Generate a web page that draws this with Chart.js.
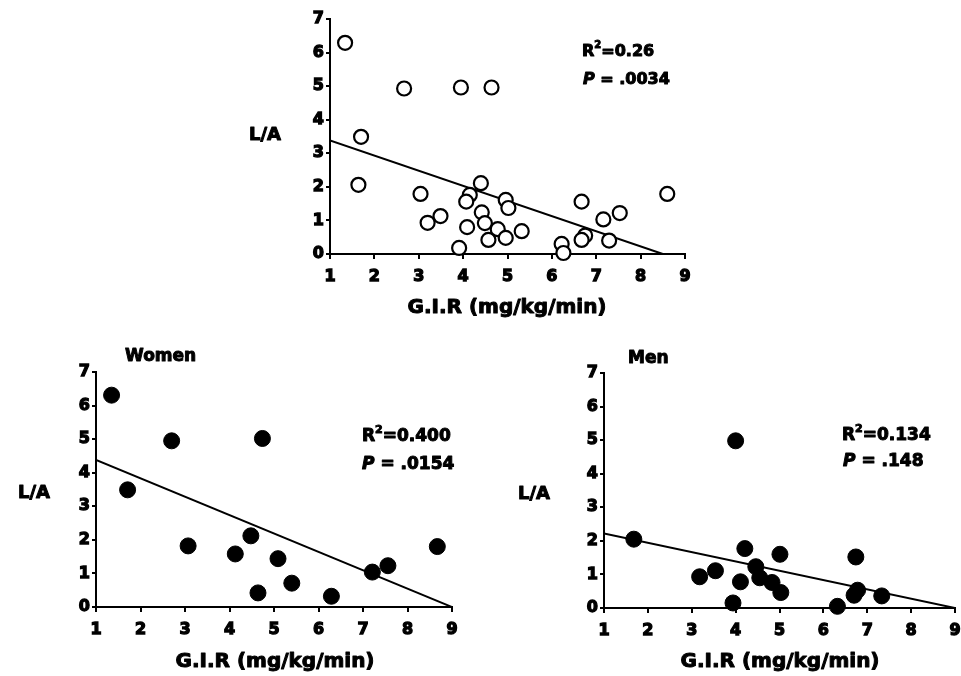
<!DOCTYPE html>
<html><head><meta charset="utf-8">
<script src="https://cdn.jsdelivr.net/npm/chart.js@4.4.1/dist/chart.umd.min.js"></script>
<style>
html,body{margin:0;padding:0;background:#fff;width:961px;height:676px;overflow:hidden;position:relative}
canvas{position:absolute}
</style></head><body>
<canvas id="cAll" width="520" height="330" style="left:200px;top:0px"></canvas>
<canvas id="cWomen" width="480" height="336" style="left:0px;top:340px"></canvas>
<canvas id="cMen" width="500" height="336" style="left:480px;top:340px"></canvas>
<script>
// ---------- data ----------
const xTicks = [1, 2, 3, 4, 5, 6, 7, 8, 9];
const yTicks = [0, 1, 2, 3, 4, 5, 6, 7];

const allGIR = [1.34, 2.67, 3.95, 4.64, 1.70, 1.64, 3.04, 3.20, 3.49, 3.91, 4.09, 4.15, 4.07, 4.40, 4.42, 4.49, 4.57, 4.78, 4.96, 5.02, 4.96, 5.32, 6.22, 6.26, 6.67, 6.75, 6.67, 7.16, 7.29, 7.53, 8.60];
const allLA  = [6.29, 4.93, 4.96, 4.96, 3.49, 2.06, 1.79, 0.93, 1.13, 0.18, 0.80, 1.76, 1.56, 2.11, 1.24, 0.92, 0.42, 0.74, 1.61, 1.37, 0.48, 0.68, 0.30, 0.03, 1.56, 0.55, 0.42, 1.03, 0.40, 1.22, 1.79];
const allFitX = [1, 8.5];
const allFitY = [3.38, 0];

const womenGIR = [1.35, 2.70, 4.74, 1.71, 3.07, 4.13, 4.48, 5.09, 4.64, 5.40, 6.29, 7.21, 7.56, 8.67];
const womenLA  = [6.31, 4.95, 5.02, 3.49, 1.82, 1.58, 2.12, 1.44, 0.42, 0.71, 0.32, 1.04, 1.23, 1.80];
const womenFitX = [1, 9];
const womenFitY = [4.38, 0];

const menGIR = [1.68, 4.00, 3.18, 3.54, 3.94, 4.11, 4.21, 4.46, 4.55, 4.83, 5.03, 5.01, 6.32, 6.74, 6.78, 6.70, 7.33];
const menLA  = [2.05, 4.98, 0.93, 1.11, 0.15, 0.78, 1.77, 1.23, 0.90, 0.76, 0.46, 1.60, 0.05, 1.52, 0.53, 0.38, 0.36];
const menFitX = [1, 9];
const menFitY = [2.22, 0];

const xTitle = 'G.I.R (mg/kg/min)';
const yTitle = 'L/A';
const panelNames = ['', 'Women', 'Men'];
const statR2 = ['0.26', '0.400', '0.134'];
const statP = ['.0034', '.0154', '.148'];

// ---------- helpers ----------
const pts = (xs, ys) => xs.map((x, i) => ({x: x, y: ys[i]}));

const textPlugin = {
  id: 'panelText',
  afterDraw(chart, args, opts) {
    const ctx = chart.ctx;
    ctx.save();
    ctx.fillStyle = '#000';
    ctx.strokeStyle = '#000';
    ctx.lineWidth = 1;
    ctx.lineJoin = 'round';
    ctx.textBaseline = 'middle';
    for (const it of opts.items || []) {
      let total = 0;
      for (const p of it.parts) { ctx.font = p.font; total += ctx.measureText(p.text).width; }
      let x = it.align === 'center' ? it.x - total / 2 : (it.align === 'right' ? it.x - total : it.x);
      for (const p of it.parts) {
        ctx.font = p.font;
        ctx.textAlign = 'left';
        ctx.strokeText(p.text, x, it.y + (p.dy || 0));
        ctx.fillText(p.text, x, it.y + (p.dy || 0));
        x += ctx.measureText(p.text).width;
      }
    }
    ctx.restore();
  }
};

const F_TITLE = 'bold 20px "DejaVu Sans"';
const F_LA = 'bold 18px "DejaVu Sans"';
const F_NAME = 'bold 17px "DejaVu Sans"';

function statItems(g, idx, size, rx, ry, px, py) {
  const f = 'bold ' + size + 'px "DejaVu Sans"';
  const fi = 'italic bold ' + size + 'px "DejaVu Sans"';
  const fs = 'bold ' + Math.round(size * 0.62) + 'px "DejaVu Sans"';
  return [
    {x: rx - g.cL, y: ry - g.cT, align: 'left', parts: [
      {text: 'R', font: f}, {text: '2', font: fs, dy: -7}, {text: '=' + statR2[idx], font: f}]},
    {x: px - g.cL, y: py - g.cT, align: 'left', parts: [
      {text: 'P', font: fi}, {text: ' = ' + statP[idx], font: f}]}
  ];
}

function makeChart(id, g, xs, ys, fx, fy, filled, radius, items) {
  const canvas = document.getElementById(id);
  const W = canvas.width, H = canvas.height;
  const aL = g.aL - g.cL, aT = g.aT - g.cT, aR = g.aR - g.cL, aB = g.aB - g.cT;
  const tickFont = {family: 'DejaVu Sans', weight: 'bold', size: 16};
  new Chart(canvas, {
    type: 'scatter',
    data: {
      datasets: [
        {data: pts(xs, ys), pointRadius: radius, pointHoverRadius: radius,
         pointBackgroundColor: filled ? '#000' : '#fff', pointBorderColor: '#000',
         pointBorderWidth: filled ? 1 : 2.2, showLine: false, clip: false},
        {data: pts(fx, fy), showLine: true, borderColor: '#000', borderWidth: 2,
         pointRadius: 0, fill: false}
      ]
    },
    options: {
      responsive: false, animation: false, devicePixelRatio: 1,
      events: [],
      layout: {padding: {left: 0, top: aT, right: W - aR, bottom: 0}},
      plugins: {legend: {display: false}, tooltip: {enabled: false}, panelText: {items: items}},
      scales: {
        x: {
          type: 'linear', min: 1, max: 9,
          afterFit(s) { s.height = H - aB; },
          afterBuildTicks(s) { s.ticks = xTicks.map(v => ({value: v})); },
          ticks: {color: '#000', font: tickFont, padding: 8, maxRotation: 0, autoSkip: false,
                  textStrokeColor: '#000', textStrokeWidth: 1.3},
          grid: {drawOnChartArea: false, drawTicks: true, tickLength: 5, color: '#000', lineWidth: 2},
          border: {display: true, color: '#000', width: 2}
        },
        y: {
          type: 'linear', min: 0, max: 7,
          afterFit(s) { s.width = aL; },
          afterBuildTicks(s) { s.ticks = yTicks.map(v => ({value: v})); },
          ticks: {color: '#000', font: tickFont, padding: 2, autoSkip: false,
                  textStrokeColor: '#000', textStrokeWidth: 1.3},
          grid: {drawOnChartArea: false, drawTicks: true, tickLength: 4, color: '#000', lineWidth: 2},
          border: {display: true, color: '#000', width: 2}
        }
      }
    },
    plugins: [textPlugin]
  });
}

// ---------- top panel: all subjects ----------
const gAll = {cL: 200, cT: 0, aL: 330, aT: 19, aR: 685, aB: 254};
makeChart('cAll', gAll, allGIR, allLA, allFitX, allFitY, false, 7, [
  {x: 281 - gAll.cL, y: 135 - gAll.cT, align: 'right', parts: [{text: yTitle, font: F_LA}]},
  {x: 507 - gAll.cL, y: 308 - gAll.cT, align: 'center', parts: [{text: xTitle, font: F_TITLE}]},
  ...statItems(gAll, 0, 16, 582, 52, 583, 80)
]);

// ---------- women ----------
const gW = {cL: 0, cT: 340, aL: 96, aT: 372, aR: 452, aB: 607};
makeChart('cWomen', gW, womenGIR, womenLA, womenFitX, womenFitY, true, 8, [
  {x: 125 - gW.cL, y: 357 - gW.cT, align: 'left', parts: [{text: panelNames[1], font: F_NAME}]},
  {x: 50 - gW.cL, y: 493 - gW.cT, align: 'right', parts: [{text: yTitle, font: F_LA}]},
  {x: 275 - gW.cL, y: 662 - gW.cT, align: 'center', parts: [{text: xTitle, font: F_TITLE}]},
  ...statItems(gW, 1, 17, 362, 437, 362, 465)
]);

// ---------- men ----------
const gM = {cL: 480, cT: 340, aL: 604, aT: 373, aR: 955, aB: 608};
makeChart('cMen', gM, menGIR, menLA, menFitX, menFitY, true, 8, [
  {x: 628 - gM.cL, y: 359 - gM.cT, align: 'left', parts: [{text: panelNames[2], font: F_NAME}]},
  {x: 550 - gM.cL, y: 494 - gM.cT, align: 'right', parts: [{text: yTitle, font: F_LA}]},
  {x: 780 - gM.cL, y: 662 - gM.cT, align: 'center', parts: [{text: xTitle, font: F_TITLE}]},
  ...statItems(gM, 2, 17, 842, 436, 843, 462)
]);
</script>
</body></html>
